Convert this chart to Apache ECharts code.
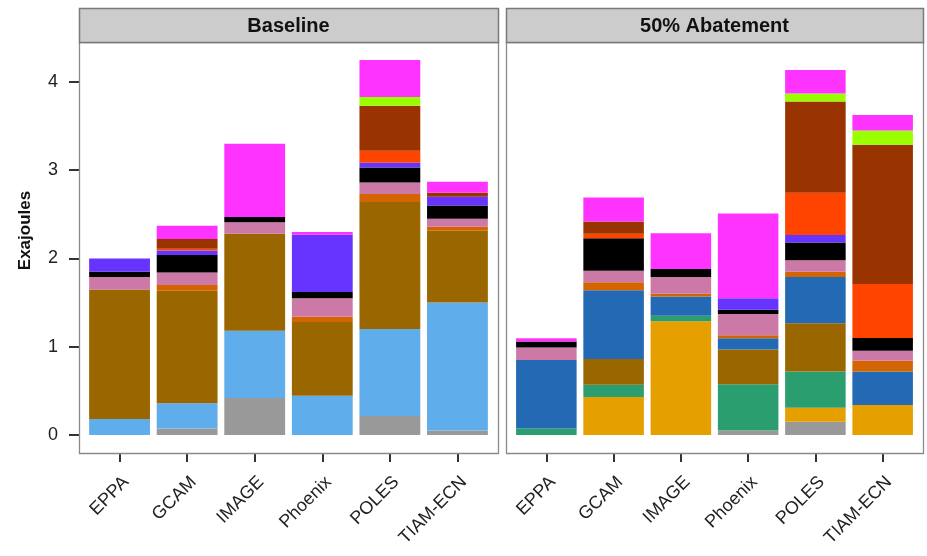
<!DOCTYPE html>
<html>
<head>
<meta charset="utf-8">
<script src="https://cdn.jsdelivr.net/npm/echarts@6/dist/echarts.min.js"></script>
<style>
  html, body { margin: 0; padding: 0; background: #fff; }
  #chart { width: 927px; height: 556px; }
</style>
</head>
<body>
<div id="chart"></div>
<script>
// Models on the x axis of each panel
const models = ['EPPA', 'GCAM', 'IMAGE', 'Phoenix', 'POLES', 'TIAM-ECN'];
const panels = ['Baseline', '50% Abatement'];
const yTicks = [0, 1, 2, 3, 4];
const yTitle = 'Exajoules';

// Supply components, stacked bottom to top
const components = ['C01', 'C02', 'C03', 'C04', 'C05', 'C06', 'C07',
                    'C08', 'C09', 'C10', 'C11', 'C12', 'C13', 'C14'];
const colors = ['#999999', '#E5A000', '#2B9E6F', '#5FADEB', '#996600', '#2369B4', '#D46400',
                '#CC79A7', '#000000', '#6633FF', '#FF4400', '#993300', '#99FF00', '#FF33FF'];

// Baseline, Exajoules per model (EPPA, GCAM, IMAGE, Phoenix, POLES, TIAM-ECN)
const baseC01 = [0, 0.075, 0.42, 0, 0.215, 0.05];
const baseC02 = [0, 0, 0, 0, 0, 0];
const baseC03 = [0, 0, 0, 0, 0, 0];
const baseC04 = [0.18, 0.285, 0.76, 0.445, 0.985, 1.45];
const baseC05 = [1.47, 1.275, 1.10, 0.835, 1.44, 0.815];
const baseC06 = [0, 0, 0, 0, 0, 0];
const baseC07 = [0, 0.065, 0, 0.06, 0.09, 0.045];
const baseC08 = [0.14, 0.14, 0.13, 0.21, 0.13, 0.09];
const baseC09 = [0.06, 0.20, 0.06, 0.07, 0.17, 0.15];
const baseC10 = [0.15, 0.05, 0, 0.65, 0.055, 0.10];
const baseC11 = [0, 0.02, 0, 0, 0.135, 0];
const baseC12 = [0, 0.11, 0, 0, 0.51, 0.045];
const baseC13 = [0, 0, 0, 0, 0.10, 0];
const baseC14 = [0, 0.15, 0.83, 0.03, 0.42, 0.125];

// 50% Abatement, Exajoules per model
const abatC01 = [0, 0, 0, 0.05, 0.15, 0];
const abatC02 = [0, 0.43, 1.29, 0, 0.16, 0.34];
const abatC03 = [0.075, 0.14, 0.06, 0.525, 0.41, 0];
const abatC04 = [0, 0, 0, 0, 0, 0];
const abatC05 = [0, 0.29, 0, 0.395, 0.545, 0];
const abatC06 = [0.775, 0.78, 0.22, 0.125, 0.525, 0.38];
const abatC07 = [0, 0.09, 0.03, 0.035, 0.06, 0.12];
const abatC08 = [0.14, 0.13, 0.19, 0.24, 0.13, 0.115];
const abatC09 = [0.07, 0.37, 0.09, 0.05, 0.20, 0.145];
const abatC10 = [0, 0, 0, 0.13, 0.085, 0];
const abatC11 = [0, 0.05, 0, 0, 0.48, 0.61];
const abatC12 = [0, 0.14, 0, 0, 1.035, 1.58];
const abatC13 = [0, 0, 0, 0, 0.09, 0.16];
const abatC14 = [0.035, 0.27, 0.405, 0.96, 0.265, 0.175];

const baseline = [baseC01, baseC02, baseC03, baseC04, baseC05, baseC06, baseC07,
                  baseC08, baseC09, baseC10, baseC11, baseC12, baseC13, baseC14];
const abatement = [abatC01, abatC02, abatC03, abatC04, abatC05, abatC06, abatC07,
                   abatC08, abatC09, abatC10, abatC11, abatC12, abatC13, abatC14];

const FONT = '"Liberation Sans", Arial, sans-serif';

// Panel frames (pixel boxes); the category band is inset by a 0.6-category expansion
const frames = [
  { x: 79, y: 42, w: 419, h: 411 },
  { x: 506, y: 42, w: 417, h: 411 }
];
const stripTop = 8, stripH = 34;
const yMin = -0.204, yMax = 4.453;

const grids = frames.map(f => {
  const unit = f.w / 6.2;
  return { left: f.x + 0.1 * unit, top: f.y, width: 6 * unit, height: f.h };
});

const xAxes = grids.map((g, i) => ({
  type: 'category',
  gridIndex: i,
  data: models,
  axisLine: { show: false, onZero: false },
  axisTick: { show: true, alignWithLabel: true, length: 9, lineStyle: { color: '#333', width: 2 } },
  axisLabel: {
    rotate: 45, margin: 20, verticalAlign: 'top',
    fontFamily: FONT, fontSize: 18, color: '#222'
  }
}));

const yAxes = grids.map((g, i) => ({
  type: 'value',
  gridIndex: i,
  min: yMin,
  max: yMax,
  offset: i === 0 ? (g.left - frames[0].x) : 0,
  splitLine: { show: false },
  axisLine: { show: false },
  axisTick: { show: i === 0, length: 10, customValues: yTicks, lineStyle: { color: '#333', width: 2 } },
  axisLabel: { show: i === 0, customValues: yTicks, margin: 21, fontFamily: FONT, fontSize: 18, color: '#222' }
}));

const series = [];
[baseline, abatement].forEach((set, p) => {
  set.forEach((vals, k) => {
    series.push({
      type: 'bar',
      name: components[k],
      xAxisIndex: p,
      yAxisIndex: p,
      stack: 'panel' + p,
      barCategoryGap: '10%',
      itemStyle: { color: colors[k] },
      data: vals.map(v => (v > 0 ? v : null))
    });
  });
});

// Panel borders, facet strips and the y-axis title (centred over strips + panels)
const graphics = [];
frames.forEach((f, i) => {
  graphics.push({
    type: 'rect', z: 100, silent: true,
    shape: { x: f.x + 0.5, y: f.y + 0.5, width: f.w, height: f.h },
    style: { fill: null, stroke: '#8a8a8a', lineWidth: 1.3 }
  });
  graphics.push({
    type: 'rect', z: 100, silent: true,
    shape: { x: f.x + 0.5, y: stripTop + 0.5, width: f.w, height: stripH },
    style: { fill: '#cccccc', stroke: '#7a7a7a', lineWidth: 1.5 }
  });
  graphics.push({
    type: 'text', z: 101, silent: true,
    x: f.x + f.w / 2, y: stripTop + stripH / 2 + 1,
    style: {
      text: panels[i], fill: '#111', font: 'bold 20px ' + FONT,
      align: 'center', verticalAlign: 'middle'
    }
  });
});
graphics.push({
  type: 'text', z: 101, silent: true,
  x: 25, y: (stripTop + frames[0].y + frames[0].h) / 2,
  rotation: Math.PI / 2,
  style: {
    text: yTitle, fill: '#111', font: 'bold 17px ' + FONT,
    align: 'center', verticalAlign: 'middle'
  }
});

const chart = echarts.init(document.getElementById('chart'), null, { renderer: 'canvas' });
chart.setOption({
  animation: false,
  backgroundColor: '#ffffff',
  grid: grids,
  xAxis: xAxes,
  yAxis: yAxes,
  series: series,
  graphic: graphics
});
</script>
</body>
</html>
